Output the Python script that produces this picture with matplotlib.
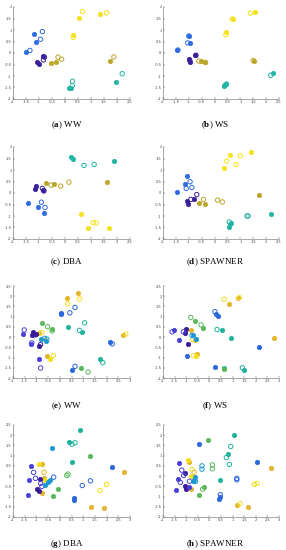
import matplotlib
matplotlib.use("Agg")
import matplotlib.pyplot as plt

plt.rcParams["mathtext.fontset"] = "custom"
plt.rcParams["mathtext.rm"] = "Liberation Serif"
plt.rcParams["mathtext.bf"] = "Liberation Serif:bold"

# ---- class colours ----
colors_small = {"P": "#3d1f9c", "B": "#2d6be0", "T": "#23b5a5", "O": "#bda52a", "Y": "#f4e21c"}
colors_large = {"P": "#3a1c9a", "V": "#4a40d8", "B": "#2a66dc", "L": "#1c98d4",
                "T": "#1fb39c", "G": "#5ab85c", "O": "#e2b52c", "Y": "#f3de1c"}

captions = [("a", "WW"), ("b", "WS"), ("c", "DBA"), ("d", "SPAWNER"),
            ("e", "WW"), ("f", "WS"), ("g", "DBA"), ("h", "SPAWNER")]

# points: (x, y, class, filled)
pts_a = [(0.55, 1.52, "Y", 1), (0.32, 0.79, "Y", 1), (1.36, 1.71, "Y", 1),
         (0.67, 1.80, "Y", 0), (1.60, 1.75, "Y", 0), (0.32, 0.68, "Y", 0),
         (-1.18, 0.84, "B", 1), (-1.12, 0.47, "B", 1), (-1.50, 0.06, "B", 1),
         (-0.87, 0.93, "B", 0), (-0.94, 0.60, "B", 0), (-1.35, 0.11, "B", 0),
         (-1.06, -0.37, "P", 1), (-0.99, -0.47, "P", 1), (-0.85, -0.14, "P", 1),
         (-0.79, -0.18, "P", 0), (-0.83, -0.30, "P", 0),
         (-0.55, -0.44, "O", 1), (-0.33, -0.38, "O", 1), (1.74, -0.35, "O", 1),
         (-0.27, -0.18, "O", 0), (-0.13, -0.27, "O", 0), (1.88, -0.17, "O", 0),
         (0.17, -1.54, "T", 1), (0.24, -1.52, "T", 1), (1.97, -1.25, "T", 1),
         (0.29, -1.23, "T", 0), (0.28, -1.42, "T", 0), (2.20, -0.90, "T", 0)]

pts_b = [(-1.01, 0.72, "B", 1), (-0.97, 0.44, "B", 1), (-1.47, 0.15, "B", 1),
         (-1.04, 0.44, "B", 0), (-1.42, 0.13, "B", 0), (-1.00, 0.74, "B", 0),
         (-0.75, -0.09, "P", 1), (-0.99, -0.28, "P", 1), (-0.97, -0.40, "P", 1),
         (-0.72, -0.10, "P", 0), (-0.96, -0.33, "P", 0),
         (-0.53, -0.34, "O", 1), (-0.36, -0.37, "O", 1), (1.53, -0.34, "O", 1),
         (-0.61, -0.35, "O", 0), (-0.35, -0.41, "O", 0), (1.50, -0.33, "O", 0),
         (0.45, 0.93, "Y", 1), (0.71, 1.49, "Y", 1), (1.55, 1.77, "Y", 1),
         (0.44, 0.80, "Y", 0), (1.39, 1.73, "Y", 0), (0.69, 1.48, "Y", 0),
         (0.36, -1.45, "T", 1), (0.45, -1.34, "T", 1), (2.26, -0.89, "T", 1),
         (0.40, -1.42, "T", 0), (2.18, -0.97, "T", 0), (0.46, -1.35, "T", 0)]

pts_c = [(0.23, 1.56, "T", 1), (0.32, 1.49, "T", 1), (1.87, 1.37, "T", 1),
         (0.73, 1.20, "T", 0), (1.12, 1.24, "T", 0),
         (-0.72, 0.43, "O", 1), (-0.42, 0.40, "O", 1), (1.62, 0.46, "O", 1),
         (-0.53, 0.34, "O", 0), (-0.17, 0.30, "O", 0), (0.15, 0.47, "O", 0),
         (-1.12, 0.30, "P", 1), (-1.17, 0.18, "P", 1), (-0.83, 0.11, "P", 1),
         (-0.87, 0.20, "P", 0), (-0.81, 0.09, "P", 0),
         (-1.41, -0.44, "B", 1), (-1.04, -0.63, "B", 1), (-0.82, -0.88, "B", 1),
         (-0.91, -0.40, "B", 0), (-0.77, -0.63, "B", 0),
         (0.60, -0.92, "Y", 1), (0.88, -1.52, "Y", 1), (1.68, -1.52, "Y", 1),
         (1.08, -1.29, "Y", 0), (1.19, -1.30, "Y", 0)]

pts_d = [(0.60, 1.65, "Y", 1), (0.35, 1.10, "Y", 1), (1.43, 1.80, "Y", 1),
         (0.47, 1.39, "Y", 0), (1.00, 1.62, "Y", 0), (0.84, 1.24, "Y", 0),
         (-1.06, 0.72, "B", 1), (-1.14, 0.39, "B", 1), (-1.47, 0.05, "B", 1),
         (-0.95, 0.49, "B", 0), (-1.10, 0.20, "B", 0), (-0.88, 0.24, "B", 0),
         (-1.05, -0.33, "P", 1), (-1.04, -0.49, "P", 1), (-0.78, -0.28, "P", 1),
         (-0.92, -0.28, "P", 0), (-0.69, -0.07, "P", 0),
         (-0.62, -0.44, "O", 1), (-0.39, -0.46, "O", 1), (1.71, -0.09, "O", 1),
         (-0.43, -0.28, "O", 0), (0.12, -0.31, "O", 0), (0.30, -0.39, "O", 0),
         (0.58, -1.35, "T", 1), (0.65, -1.30, "T", 1), (2.18, -0.91, "T", 1), (0.57, -1.49, "T", 1),
         (0.57, -1.26, "T", 0), (1.26, -1.00, "T", 0), (1.30, -1.00, "T", 0)]

pts_e = [(0.30, 1.93, "O", 1), (0.77, 2.16, "O", 1), (-0.87, 0.22, "O", 1), (-0.54, -0.91, "O", 1), (2.68, 0.09, "O", 1),
         (0.34, 1.63, "Y", 0), (0.85, 1.87, "Y", 0), (-0.77, 0.22, "Y", 0), (-0.28, -0.90, "Y", 0), (2.82, 0.15, "Y", 0),
         (-0.44, -1.08, "Y", 1), (-0.62, -0.15, "Y", 1),
         (0.03, 1.19, "B", 1), (0.06, 1.14, "B", 1), (2.16, -0.22, "B", 1), (-0.87, -1.08, "V", 1), (0.54, -1.63, "B", 1),
         (0.43, 1.19, "B", 0), (0.65, 1.45, "B", 0), (2.24, -0.33, "B", 0), (-0.82, -1.51, "V", 0), (0.65, -1.43, "B", 0),
         (0.35, 0.49, "T", 1), (0.96, 0.25, "T", 1), (1.72, -1.06, "T", 1),
         (0.84, 0.33, "T", 0), (1.84, -1.25, "T", 0), (1.06, 0.70, "T", 0),
         (-0.74, 0.70, "G", 1), (-0.34, 0.40, "G", 1), (0.89, -1.51, "G", 1),
         (-0.52, 0.51, "G", 0), (-0.33, 0.30, "G", 0), (1.21, -1.71, "G", 0),
         (-1.15, 0.27, "P", 1), (-1.18, 0.11, "P", 1), (-0.89, -0.45, "P", 1), (-1.02, 0.15, "P", 1),
         (-1.04, 0.11, "P", 0), (-0.82, -0.36, "P", 0),
         (-1.56, 0.15, "V", 1), (-1.25, -0.33, "V", 1),
         (-1.52, 0.35, "V", 0), (-1.20, -0.28, "V", 0),
         (-0.79, -0.07, "L", 1), (-0.60, -0.19, "L", 1),
         (-0.65, -0.06, "L", 0), (-0.55, -0.10, "L", 0)]

pts_f = [(0.83, 1.64, "O", 1), (1.24, 1.93, "O", 1), (2.77, -0.05, "O", 1), (-0.55, -0.81, "O", 1),
         (-0.79, 0.33, "O", 1), (-0.62, -0.13, "O", 1),
         (0.63, 1.85, "Y", 0), (1.29, 1.93, "Y", 0), (-0.72, -0.11, "Y", 0), (-0.69, -0.91, "Y", 0),
         (-0.58, -0.90, "Y", 1),
         (0.29, 1.12, "B", 1), (0.36, 1.04, "B", 1), (2.13, -0.49, "B", 1), (-0.98, -0.93, "B", 1), (0.26, -1.48, "B", 1),
         (0.24, 1.24, "B", 0),
         (0.53, 0.34, "T", 1), (0.95, -0.03, "T", 1), (1.48, -1.59, "T", 1), (0.65, -1.53, "T", 1),
         (0.33, 0.37, "T", 0), (1.42, -1.50, "T", 0),
         (-0.60, 0.80, "G", 1), (-0.29, 0.47, "G", 1), (0.62, -1.54, "G", 1),
         (-0.80, 0.96, "G", 0), (-0.36, 0.60, "G", 0),
         (-1.03, 0.39, "P", 1), (-1.06, 0.21, "P", 1), (-0.93, -0.33, "P", 1),
         (-1.54, 0.33, "V", 1), (-1.29, -0.15, "V", 1),
         (-1.61, 0.26, "V", 0), (-1.12, 0.26, "V", 0),
         (-0.57, -0.08, "L", 1), (-0.70, 0.08, "L", 1),
         (-0.75, 0.08, "L", 0)]

pts_g = [(0.88, 2.26, "T", 1), (0.41, 1.69, "T", 1), (0.52, 0.67, "T", 1),
         (0.52, 1.56, "T", 0), (0.65, 1.63, "T", 0),
         (-0.33, 1.37, "L", 1),
         (1.30, 0.99, "G", 1), (-0.09, -0.62, "G", 1), (-0.30, -0.96, "G", 1),
         (0.30, 0.03, "G", 0), (0.35, 0.10, "G", 0),
         (2.23, 0.47, "B", 1), (0.61, -1.07, "B", 1), (0.62, -1.19, "B", 1), (-1.38, -0.93, "V", 1),
         (0.96, -0.46, "B", 0), (1.31, -0.23, "B", 0), (-0.26, -0.05, "B", 0),
         (-0.74, 0.59, "O", 1), (-0.68, -0.11, "O", 1), (-0.74, -0.83, "O", 1),
         (1.35, -1.50, "O", 1), (1.89, -1.55, "O", 1), (2.75, 0.18, "O", 1),
         (-0.67, 0.18, "O", 0), (1.72, -0.70, "Y", 0), (2.00, -0.41, "Y", 0),
         (-0.89, 0.60, "Y", 1), (-0.65, -0.20, "Y", 1),
         (-0.85, -0.15, "P", 1), (-0.96, -0.64, "P", 1), (-0.91, -0.73, "P", 1),
         (-1.23, 0.50, "V", 1), (-1.30, -0.18, "V", 1),
         (-1.12, 0.18, "V", 0), (-1.04, -0.11, "V", 0), (-0.82, -0.36, "V", 0), (-0.77, -0.50, "V", 0),
         (-0.51, -0.31, "L", 1), (-0.44, -0.21, "L", 1), (-0.65, -0.42, "L", 1)]

pts_h = [(1.08, 2.00, "T", 1), (0.79, 1.09, "T", 1), (0.47, -0.21, "T", 1), (-0.65, -0.18, "T", 1),
         (0.92, 1.45, "T", 0), (0.73, 0.91, "T", 0), (0.86, 0.57, "T", 0),
         (-0.32, 0.50, "L", 0), (-0.32, 0.34, "L", 0),
         (-0.06, 1.76, "G", 1), (-0.23, -0.54, "G", 1), (-0.45, -0.93, "G", 1),
         (0.13, 0.55, "G", 0), (0.13, 0.36, "G", 0), (-0.29, -0.64, "G", 0),
         (-0.43, 1.58, "B", 1), (2.05, 0.67, "B", 1), (0.47, -1.03, "B", 1), (0.42, -1.12, "B", 1),
         (1.18, -0.11, "B", 0), (1.18, -0.18, "B", 0), (0.47, -0.91, "B", 0),
         (-0.88, 0.68, "O", 1), (-0.78, -0.62, "O", 1), (1.18, -1.43, "O", 1), (1.65, -1.50, "O", 1), (2.66, 0.41, "O", 1),
         (-0.75, 0.33, "Y", 0), (-0.66, 0.18, "O", 0), (1.94, -0.41, "Y", 0), (2.05, -0.36, "Y", 0), (1.32, -1.34, "Y", 0),
         (-0.93, 0.80, "Y", 1), (-0.80, 0.00, "Y", 1),
         (-1.05, 0.13, "P", 1), (-1.06, -0.47, "P", 1), (-1.02, -0.62, "P", 1),
         (-1.32, 0.64, "V", 1), (-1.35, -0.13, "V", 1), (-1.45, -0.68, "V", 1), (-0.88, -0.54, "V", 1),
         (-1.19, 0.29, "V", 0), (-1.25, -0.31, "V", 0), (-1.11, 0.03, "V", 0), (-0.86, -0.25, "V", 0),
         (-0.70, -0.25, "L", 1), (-0.62, -0.05, "L", 1),
         (-0.60, -0.26, "L", 0)]

all_pts = [pts_a, pts_b, pts_c, pts_d, pts_e, pts_f, pts_g, pts_h]

xt_small = [-2, -1.5, -1, -0.5, 0, 0.5, 1, 1.5, 2, 2.5]
yt_small = [-2, -1.5, -1, -0.5, 0, 0.5, 1, 1.5, 2]
xt_large = [-2, -1.5, -1, -0.5, 0, 0.5, 1, 1.5, 2, 2.5, 3]
yt_large = [-2, -1.5, -1, -0.5, 0, 0.5, 1, 1.5, 2, 2.5]

W, H = 286, 550
fig = plt.figure(figsize=(W / 100, H / 100), dpi=100)

# axes rectangles in pixels: (top, bottom, caption y), (left, right, caption x)
rows_px = [(7, 99, 125), (147, 239, 262), (286, 378, 406), (425, 517, 544)]
cols_px = [(13, 130, 67), (163, 279, 215)]

for i, pts in enumerate(all_pts):
    r, c = divmod(i, 2)
    top, bot, capy = rows_px[r]
    left, right, capx = cols_px[c]
    ax = fig.add_axes([left / W, 1 - bot / H, (right - left) / W, (bot - top) / H])
    large = r >= 2
    cmap = colors_large if large else colors_small
    xt = xt_large if large else xt_small
    yt = yt_large if large else yt_small
    for (x, y, k, f) in pts:
        col = cmap[k]
        if f:
            ax.scatter([x], [y], s=10, color=col, edgecolors=col, linewidths=0.5, zorder=3)
        else:
            ax.scatter([x], [y], s=10, facecolors="none", edgecolors=col, linewidths=0.7, zorder=3)
    ax.set_xlim(xt[0], xt[-1])
    ax.set_ylim(yt[0], yt[-1])
    ax.set_xticks(xt)
    ax.set_yticks(yt)
    ax.set_xticklabels(["%g" % v for v in xt])
    ax.set_yticklabels(["%g" % v for v in yt])
    ax.tick_params(labelsize=2.6, length=1.2, width=0.3, direction="in", pad=1,
                   colors="#444444")
    for s in ["top", "right"]:
        ax.spines[s].set_visible(False)
    for s in ["left", "bottom"]:
        ax.spines[s].set_linewidth(0.4)
        ax.spines[s].set_color("#666666")
    letter, name = captions[i]
    fig.text(capx / W, 1 - capy / H, r"(" + r"$\mathbf{" + letter + r"}$" + r") " + name,
             ha="center", va="center", fontsize=6.5, family="Liberation Serif")

fig.savefig("out.png", dpi=100)
